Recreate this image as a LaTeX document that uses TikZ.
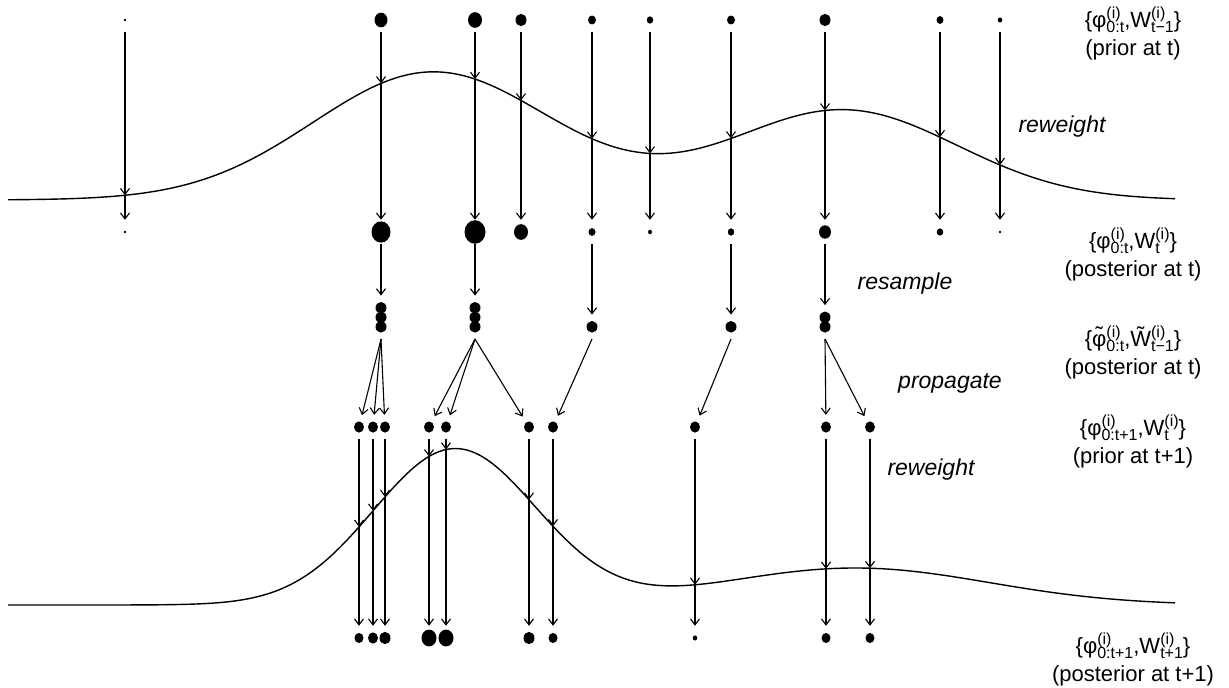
\documentclass[tikz,border=0pt]{standalone}
\usepackage{fontspec}
\setmainfont{Liberation Sans}
\usetikzlibrary{arrows.meta,calc}

% raised index over lowered index, as in x^{(i)}_{0:t}
\newsavebox\supbox
\newsavebox\subbox
\newcommand{\ix}[2]{%
  \sbox\supbox{\fontsize{16}{16}\selectfont #1}%
  \sbox\subbox{\fontsize{16}{16}\selectfont #2}%
  \rlap{\raisebox{9pt}{\usebox\supbox}}\raisebox{-5pt}{\usebox\subbox}%
  \ifdim\wd\supbox>\wd\subbox\hspace{\dimexpr\wd\supbox-\wd\subbox\relax}\fi}
% tilde set over a letter
\newcommand{\tld}[1]{%
  \setbox0\hbox{#1}%
  \rlap{\hbox to\wd0{\hss\raisebox{0.2em}{\char"02DC}\hss}}\box0}

\begin{document}
\begin{tikzpicture}[x=1pt, y=-1pt,
  dot/.style={circle, minimum size=24pt, inner sep=0pt,
    path picture={\fill (path picture bounding box.center) ellipse ({0.5pt*#1} and {0.56pt*#1});}},
  stack/.style={rectangle, minimum width=24pt, minimum height={24pt+9.5pt*(#1-1)}, inner sep=0pt, anchor=south,
    path picture={\foreach \k in {1,...,#1}
      \fill ($(path picture bounding box.south)+(0,{12pt+9.5pt*(\k-1)})$) ellipse (5.5pt and 5.8pt);}},
  arr/.style={-{Straight Barb[length=6pt,width=9pt]}, line width=1.1pt},
  curve/.style={line width=1.4pt},
  act/.style={font=\fontsize{23}{27}\selectfont\itshape},
  setlab/.style={align=center, anchor=north, inner sep=0pt, font=\fontsize{22}{28}\selectfont},
  declare function={
    prior(\x)=200-128*exp(-((\x-433)/100)*((\x-433)/100)/2.88)-90*exp(-((\x-843)/100)*((\x-843)/100)/2.611);
    post(\x)=605-156*exp(-((\x-455)/100)*((\x-455)/100)/1.33)-37*exp(-((\x-855)/100)*((\x-855)/100)/3.6);
  }
]
\useasboundingbox (0,0) rectangle (1229,688);

% the two weight curves
\draw[curve] plot[domain=8:1175, samples=240, smooth] (\x,{prior(\x)});
\draw[curve] plot[domain=8:1175, samples=240, smooth] (\x,{post(\x)});

% prior particles at t, reweighted through the first curve
\foreach \x/\a/\b [count=\i] in {125/2.5/2.5, 381/13/19, 475/14/21, 521/11/14, 592/8/7,
    650/6.5/4, 731/8/6.5, 825/11/12, 940/7/6.5, 1000/4.5/2.5} {
  \node[dot=\a] (p\i) at (\x,20) {};
  \node[dot=\b] (w\i) at (\x,232) {};
  \coordinate (c\i) at (\x,{prior(\x)});
  \draw[arr] (p\i) -- (c\i);
  \draw[arr] (c\i) -- (w\i);
}

% resampled copies
\node[stack=3] (s1) at (381,339) {};
\node[stack=3] (s2) at (475,339) {};
\node[stack=1] (s3) at (592,339) {};
\node[stack=1] (s4) at (731,339) {};
\node[stack=2] (s5) at (825,339) {};
\foreach \i/\j in {2/1,3/2,5/3,7/4,8/5}
  \draw[arr] (w\i) -- (s\j);

% prior at t+1, reweighted through the second curve
\foreach \x/\b [count=\i] in {359/9, 373/10, 385/11, 429/15, 446/15, 529/11,
    553/9, 695/4.5, 826/9, 870/9} {
  \node[dot=10] (q\i) at (\x,427) {};
  \node[dot=\b] (r\i) at (\x,638) {};
  \coordinate (d\i) at (\x,{post(\x)});
  \draw[arr] (q\i) -- (d\i);
  \draw[arr] (d\i) -- (r\i);
}

% propagate
\foreach \s/\q in {1/1,1/2,1/3,2/4,2/5,2/6,3/7,4/8,5/9,5/10}
  \draw[arr] (s\s.south) -- (q\q);

% step names
\node[act] (rw1) at (1062,127) {reweight};
\node[act] (rs) at (905,284) {resample};
\node[act] (pg) at (950,383) {propagate};
\node[act] (rw2) at (931,470) {reweight};

% particle sets
\node[setlab] (l1) at (1133,7) {\{φ\ix{(i)}{0:t},W\ix{(i)}{t−1}\}\\(prior at t)};
\node[setlab] (l2) at (1133,228) {\{φ\ix{(i)}{0:t},W\ix{(i)}{t}\}\\(posterior at t)};
\node[setlab] (l3) at (1133,326) {\{\tld{φ}\ix{(i)}{0:t},\tld{W}\ix{(i)}{t−1}\}\\(posterior at t)};
\node[setlab] (l4) at (1133,415) {\{φ\ix{(i)}{0:t+1},W\ix{(i)}{t}\}\\(prior at t+1)};
\node[setlab] (l5) at (1133,633) {\{φ\ix{(i)}{0:t+1},W\ix{(i)}{t+1}\}\\(posterior at t+1)};
\end{tikzpicture}
\end{document}
